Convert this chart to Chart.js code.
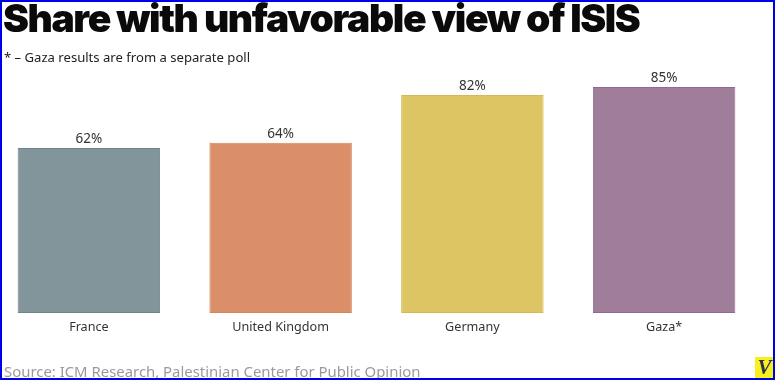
<!DOCTYPE html>
<html>
<head>
<meta charset="utf-8">
<script src="https://cdn.jsdelivr.net/npm/chart.js@4"></script>
<style>
  html, body { margin: 0; padding: 0; background: #fff; }
  #frame { position: relative; width: 775px; height: 380px; overflow: hidden; background: #fff; }
  #borde { position: absolute; left: 0; top: 0; width: 771px; height: 376px; border: 2px solid #0000e6; z-index: 5; }
  #lienzo { position: absolute; left: -7px; top: 0; width: 767px; height: 380px; }
  .txt { position: absolute; white-space: nowrap; z-index: 3; }
  #titulo { left: 3px; top: -6px; font: 900 39px Inter, sans-serif; letter-spacing: -1.4px; color: #0a0a0a; }
  #nota { left: 4px; top: 48px; font: 13.1px "Noto Sans", sans-serif; color: #222; }
  #fuente { left: 4px; top: 361px; font: 14.9px "Noto Sans", sans-serif; color: #9a9a9a; }
  #logo { position: absolute; left: 755px; top: 357px; width: 19px; height: 21px; background: #f7f020; color: #33304a;
          font: italic bold 21px/21px "Liberation Serif", serif; text-align: center; z-index: 4; }
</style>
</head>
<body>
<div id="frame">
  <div id="lienzo"><canvas id="grafico"></canvas></div>
  <div class="txt" id="titulo">Share with unfavorable view of ISIS</div>
  <div class="txt" id="nota">* – Gaza results are from a separate poll</div>
  <div class="txt" id="fuente">Source: ICM Research, Palestinian Center for Public Opinion</div>
  <div id="logo">V</div>
  <div id="borde"></div>
</div>
<script>
const paises = ["France", "United Kingdom", "Germany", "Gaza*"];
const valores = [62, 64, 82, 85];
const rellenos = ["#81959b", "#da8f68", "#dec564", "#a07d9b"];
const bordes = ["#6f858b", "#d5855b", "#d4ba52", "#8f6c8b"];

// etiquetas de porcentaje encima de cada barra
const etiquetasBarras = {
  id: "etiquetasBarras",
  afterDatasetsDraw(chart) {
    const ctx = chart.ctx;
    const meta = chart.getDatasetMeta(0);
    ctx.save();
    ctx.font = '13.5px "Noto Sans", sans-serif';
    ctx.fillStyle = "#333";
    ctx.textAlign = "center";
    ctx.textBaseline = "bottom";
    meta.data.forEach((barra, i) => {
      ctx.fillText(valores[i] + "%", barra.x, barra.y - 2);
    });
    ctx.restore();
  }
};

new Chart(document.getElementById("grafico"), {
  type: "bar",
  data: {
    labels: paises,
    datasets: [{
      data: valores,
      backgroundColor: rellenos,
      borderColor: bordes,
      borderWidth: 1,
      borderSkipped: false,
      categoryPercentage: 1,
      barPercentage: 0.743
    }]
  },
  options: {
    responsive: true,
    maintainAspectRatio: false,
    animation: false,
    layout: { padding: { top: 47, left: 0, right: 0, bottom: 0 } },
    plugins: { legend: { display: false }, tooltip: { enabled: false } },
    scales: {
      x: {
        grid: { display: false },
        border: { display: false },
        ticks: { color: "#333", font: { family: "Noto Sans", size: 12.6 }, padding: -1, maxRotation: 0 },
        afterFit(scale) { scale.height = 67; }
      },
      y: { display: false, min: 0, max: 100 }
    }
  },
  plugins: [etiquetasBarras]
});
</script>
</body>
</html>
